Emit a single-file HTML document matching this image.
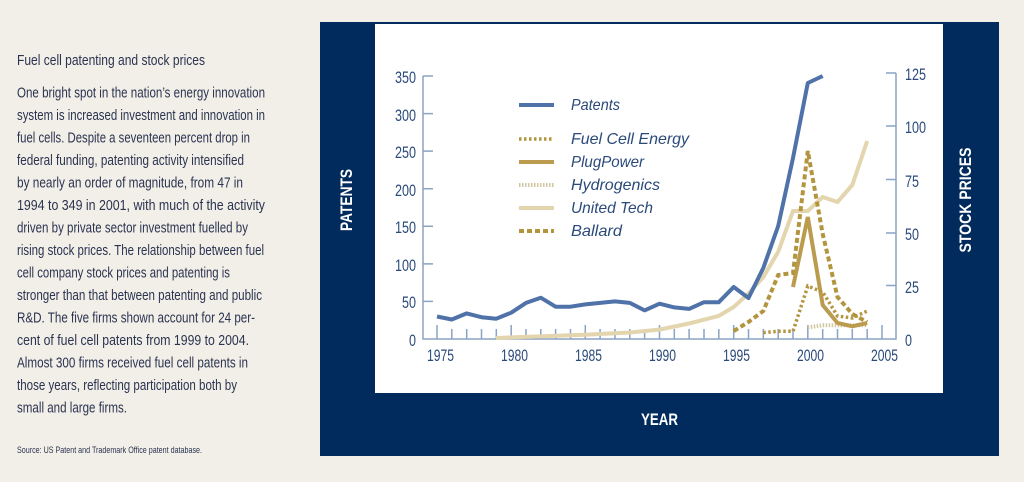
<!DOCTYPE html>
<html><head><meta charset="utf-8"><style>
html,body{margin:0;padding:0;background:#f2efe8;}
svg{display:block}
</style></head><body>
<svg width="1024" height="482" viewBox="0 0 1024 482" xmlns="http://www.w3.org/2000/svg" font-family="Liberation Sans, sans-serif">
<rect width="1024" height="482" fill="#f2efe8"/>
<g fill="#2a3350" font-size="14.5">
<text x="17" y="65" textLength="188" lengthAdjust="spacingAndGlyphs">Fuel cell patenting and stock prices</text>
<text x="17" y="97.5" textLength="248" lengthAdjust="spacingAndGlyphs">One bright spot in the nation’s energy innovation</text>
<text x="17" y="120" textLength="248" lengthAdjust="spacingAndGlyphs">system is increased investment and innovation in</text>
<text x="17" y="142.5" textLength="233" lengthAdjust="spacingAndGlyphs">fuel cells. Despite a seventeen percent drop in</text>
<text x="17" y="165" textLength="227" lengthAdjust="spacingAndGlyphs">federal funding, patenting activity intensified</text>
<text x="17" y="187.5" textLength="226" lengthAdjust="spacingAndGlyphs">by nearly an order of magnitude, from 47 in</text>
<text x="17" y="210" textLength="248" lengthAdjust="spacingAndGlyphs">1994 to 349 in 2001, with much of the activity</text>
<text x="17" y="232.5" textLength="231" lengthAdjust="spacingAndGlyphs">driven by private sector investment fuelled by</text>
<text x="17" y="255" textLength="247" lengthAdjust="spacingAndGlyphs">rising stock prices. The relationship between fuel</text>
<text x="17" y="277.5" textLength="213" lengthAdjust="spacingAndGlyphs">cell company stock prices and patenting is</text>
<text x="17" y="300" textLength="245" lengthAdjust="spacingAndGlyphs">stronger than that between patenting and public</text>
<text x="17" y="322.5" textLength="238" lengthAdjust="spacingAndGlyphs">R&amp;D. The five firms shown account for 24 per-</text>
<text x="17" y="345" textLength="232" lengthAdjust="spacingAndGlyphs">cent of fuel cell patents from 1999 to 2004.</text>
<text x="17" y="367.5" textLength="231" lengthAdjust="spacingAndGlyphs">Almost 300 firms received fuel cell patents in</text>
<text x="17" y="390" textLength="220" lengthAdjust="spacingAndGlyphs">those years, reflecting participation both by</text>
<text x="17" y="412.5" textLength="110" lengthAdjust="spacingAndGlyphs">small and large firms.</text>
<text x="17" y="453" font-size="9" textLength="185" lengthAdjust="spacingAndGlyphs">Source: US Patent and Trademark Office patent database.</text>
</g>
<rect x="320" y="22" width="679" height="434" fill="#002b5c"/>
<rect x="375" y="24" width="568" height="369" fill="#ffffff"/>
<g fill="#fff" font-weight="bold" font-size="17">
<text transform="translate(352,200) rotate(-90)" text-anchor="middle" textLength="62" lengthAdjust="spacingAndGlyphs">PATENTS</text>
<text transform="translate(971,200) rotate(-90)" text-anchor="middle" textLength="105" lengthAdjust="spacingAndGlyphs">STOCK PRICES</text>
<text x="641" y="425" textLength="37" lengthAdjust="spacingAndGlyphs">YEAR</text>
</g>
<g stroke="#8aa4c4" stroke-width="1.5" fill="none">
<path d="M423,76 V339 H896 V73"/>
<path d="M423,76h10M423,113.6h10M423,151.1h10M423,188.7h10M423,226.3h10M423,263.9h10M423,301.4h10"/>
<path d="M896,73h-10M896,126h-10M896,179.5h-10M896,233h-10M896,285.5h-10"/>
<path d="M437,339v-14M451.8,339v-10M466.7,339v-10M481.5,339v-10M496.3,339v-10M511.2,339v-14M526,339v-10M540.8,339v-10M555.6,339v-10M570.5,339v-10M585.3,339v-14M600.1,339v-10M615,339v-10M629.8,339v-10M644.6,339v-10M659.5,339v-14M674.3,339v-10M689.1,339v-10M704,339v-10M718.8,339v-10M733.7,339v-14M748.5,339v-10M763.3,339v-10M778.2,339v-10M793,339v-10M807.8,339v-14M822.7,339v-10M837.5,339v-10M852.3,339v-10M867.2,339v-10M882,339v-14"/>
</g>
<g fill="#2a4a7a" font-size="17">
<text x="395" y="83" textLength="21" lengthAdjust="spacingAndGlyphs">350</text>
<text x="395" y="121" textLength="21" lengthAdjust="spacingAndGlyphs">300</text>
<text x="395" y="158" textLength="21" lengthAdjust="spacingAndGlyphs">250</text>
<text x="395" y="196" textLength="21" lengthAdjust="spacingAndGlyphs">200</text>
<text x="395" y="233" textLength="21" lengthAdjust="spacingAndGlyphs">150</text>
<text x="395" y="271" textLength="21" lengthAdjust="spacingAndGlyphs">100</text>
<text x="402" y="308" textLength="14" lengthAdjust="spacingAndGlyphs">50</text>
<text x="409" y="346" textLength="7" lengthAdjust="spacingAndGlyphs">0</text>
<text x="905" y="80" textLength="21" lengthAdjust="spacingAndGlyphs">125</text>
<text x="905" y="133" textLength="21" lengthAdjust="spacingAndGlyphs">100</text>
<text x="905" y="187" textLength="14" lengthAdjust="spacingAndGlyphs">75</text>
<text x="905" y="240" textLength="14" lengthAdjust="spacingAndGlyphs">50</text>
<text x="905" y="293" textLength="14" lengthAdjust="spacingAndGlyphs">25</text>
<text x="905" y="346" textLength="7" lengthAdjust="spacingAndGlyphs">0</text>
<text x="427" y="361" textLength="27" lengthAdjust="spacingAndGlyphs">1975</text>
<text x="501" y="361" textLength="27" lengthAdjust="spacingAndGlyphs">1980</text>
<text x="575" y="361" textLength="27" lengthAdjust="spacingAndGlyphs">1985</text>
<text x="649" y="361" textLength="27" lengthAdjust="spacingAndGlyphs">1990</text>
<text x="723" y="361" textLength="27" lengthAdjust="spacingAndGlyphs">1995</text>
<text x="797" y="361" textLength="27" lengthAdjust="spacingAndGlyphs">2000</text>
<text x="871" y="361" textLength="27" lengthAdjust="spacingAndGlyphs">2005</text>
</g>
<!-- United Tech -->
<polyline fill="none" stroke="#e3d5ae" stroke-width="4" points="496,338 585,334.7 630,332.5 659.5,329.6 689,323.5 718.8,315.9 733.7,307 748.5,293.5 763.3,277 778.2,251.8 793,211 807.8,211 822.7,197 837.5,202 852.3,185 867.2,141"/>
<!-- Hydrogenics -->
<polyline fill="none" stroke="#cfc7a0" stroke-width="4" stroke-dasharray="1.5,1.5" points="807.8,327.4 822.7,325.3 837.5,325.3 852.3,325.3 867.2,325.3"/>
<!-- PlugPower -->
<polyline fill="none" stroke="#bb9c4e" stroke-width="4" points="793,287 807.8,217 822.7,305 837.5,323 852.3,326.3 867.2,323"/>
<!-- Ballard -->
<polyline fill="none" stroke="#b4953f" stroke-width="4" stroke-dasharray="5,3" points="733.7,331 748.5,322 763.3,311 778.2,275 793,273 807.8,151 822.7,234 837.5,297 852.3,314 867.2,322"/>
<!-- Fuel Cell Energy -->
<polyline fill="none" stroke="#b4953f" stroke-width="3.5" stroke-dasharray="2.5,2.5" points="763.3,332.6 778.2,331.3 793,331.3 807.8,286 822.7,292 837.5,316 852.3,318 867.2,311"/>
<!-- Patents -->
<polyline fill="none" stroke="#4f72a8" stroke-width="4" stroke-linejoin="round" points="437,316.5 451.8,319.5 466.7,313.4 481.5,317.2 496.3,318.7 511.2,312.7 526,302.9 540.8,297.7 555.6,306.7 570.5,306.7 585.3,304.4 600.1,302.9 615,301.4 629.8,302.9 644.6,310.4 659.5,303.7 674.3,307.4 689.1,308.9 704,302.2 718.8,302.2 733.7,287 748.5,298 763.3,268 778.2,226 793,158 807.8,83 822.7,76"/>
<!-- Legend -->
<g stroke-width="4" fill="none">
<line x1="519" y1="105" x2="554" y2="105" stroke="#4f72a8"/>
<line x1="519" y1="139" x2="554" y2="139" stroke="#b4953f" stroke-width="3.5" stroke-dasharray="2.5,2.5"/>
<line x1="519" y1="162" x2="554" y2="162" stroke="#bb9c4e"/>
<line x1="519" y1="185" x2="554" y2="185" stroke="#cfc7a0" stroke-dasharray="1.5,1.5"/>
<line x1="519" y1="208" x2="554" y2="208" stroke="#e3d5ae"/>
<line x1="519" y1="231" x2="554" y2="231" stroke="#b4953f" stroke-dasharray="5,3"/>
</g>
<g fill="#2a4a7a" font-size="16" font-style="italic">
<text x="571" y="110" textLength="49" lengthAdjust="spacingAndGlyphs">Patents</text>
<text x="571" y="144" textLength="118" lengthAdjust="spacingAndGlyphs">Fuel Cell Energy</text>
<text x="571" y="167" textLength="73" lengthAdjust="spacingAndGlyphs">PlugPower</text>
<text x="571" y="190" textLength="89" lengthAdjust="spacingAndGlyphs">Hydrogenics</text>
<text x="571" y="213" textLength="82" lengthAdjust="spacingAndGlyphs">United Tech</text>
<text x="571" y="236" textLength="51" lengthAdjust="spacingAndGlyphs">Ballard</text>
</g>
</svg>
</body></html>
